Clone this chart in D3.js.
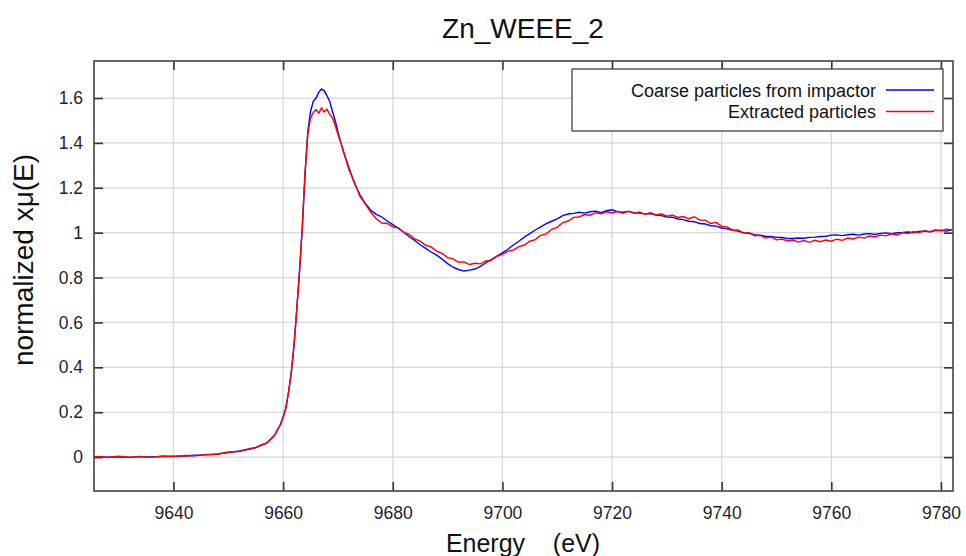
<!DOCTYPE html>
<html>
<head>
<meta charset="utf-8">
<script src="https://cdn.jsdelivr.net/npm/d3@7"></script>
<style>
  body { margin: 0; background: #fff; }
  svg text { font-family: "Liberation Sans", Arial, sans-serif; }
  .grid line { stroke: #d6d6d6; stroke-width: 1.2; }
  .tick text { fill: #1e1e2e; }
</style>
</head>
<body>
<svg id="chart"></svg>
<script>
// energy grid (eV)
const energy = [9625.6, 9628, 9630, 9632, 9634, 9636, 9638, 9640, 9642, 9644, 9646, 9648, 9650, 9652, 9654,
  9655, 9656, 9657, 9658,
  9658.5, 9659, 9659.5, 9660, 9660.5, 9661, 9661.5, 9662, 9662.5, 9663, 9663.5, 9664, 9664.5, 9665, 9665.5,
  9666, 9666.5, 9667, 9667.5, 9668, 9668.5, 9669, 9669.5, 9670,
  9671, 9672, 9673, 9674, 9675, 9676, 9677, 9678, 9679, 9680, 9681, 9682, 9683, 9684, 9685, 9686, 9687, 9688,
  9689, 9690, 9691, 9692, 9693, 9694, 9695, 9696, 9697, 9698, 9699, 9700, 9701, 9702, 9703, 9704, 9705, 9706,
  9707, 9708, 9709, 9710, 9711, 9712, 9713, 9714, 9715, 9716, 9717, 9718, 9719, 9720, 9721, 9722, 9723, 9724,
  9725, 9726, 9727, 9728, 9729, 9730, 9731, 9732, 9733, 9734, 9735, 9736, 9737, 9738, 9739, 9740, 9741, 9742,
  9743, 9744, 9745, 9746, 9747, 9748, 9749, 9750, 9751, 9752, 9753, 9754, 9755, 9756, 9757, 9758, 9759, 9760,
  9761, 9762, 9763, 9764, 9765, 9766, 9767, 9768, 9769, 9770, 9771, 9772, 9773, 9774, 9775, 9776, 9777, 9778,
  9779, 9780, 9781, 9782];

const coarse = [0.002, 0.000, 0.001, -0.001, 0.002, 0.001, 0.003, 0.004, 0.005, 0.008, 0.010, 0.014, 0.020, 0.027, 0.036,
  0.043, 0.052, 0.063, 0.085,
  0.100, 0.122, 0.146, 0.178, 0.22, 0.29, 0.38, 0.50, 0.66, 0.83, 1.02, 1.26, 1.45, 1.54, 1.585,
  1.60, 1.625, 1.64, 1.632, 1.61, 1.585, 1.54, 1.50, 1.45,
  1.36, 1.29, 1.22, 1.17, 1.13, 1.10, 1.082, 1.07, 1.052, 1.036, 1.02, 1.002, 0.982, 0.965, 0.946, 0.93, 0.914, 0.90,
  0.882, 0.862, 0.846, 0.836, 0.829, 0.833, 0.838, 0.85, 0.866, 0.88, 0.896, 0.91, 0.926, 0.945, 0.962, 0.98, 0.996, 1.012,
  1.026, 1.04, 1.051, 1.062, 1.076, 1.083, 1.086, 1.091, 1.087, 1.093, 1.096, 1.089, 1.098, 1.102, 1.094, 1.091, 1.095, 1.089,
  1.088, 1.084, 1.085, 1.079, 1.076, 1.07, 1.069, 1.061, 1.058, 1.051, 1.049, 1.041, 1.039, 1.031, 1.029, 1.021, 1.017, 1.011,
  1.007, 0.999, 0.997, 0.991, 0.989, 0.984, 0.983, 0.979, 0.979, 0.974, 0.974, 0.976, 0.975, 0.979, 0.98, 0.983, 0.984, 0.989,
  0.99, 0.987, 0.991, 0.993, 0.989, 0.994, 0.996, 0.992, 0.997, 0.999, 0.996, 1.0, 1.001, 1.003, 1.0, 1.005, 1.007, 1.004,
  1.009, 1.011, 1.007, 1.013];

const extracted = [0.003, -0.002, 0.004, 0.000, 0.003, -0.001, 0.005, 0.002, 0.007, 0.006, 0.012, 0.013, 0.023, 0.025, 0.039,
  0.041, 0.055, 0.061, 0.088,
  0.098, 0.125, 0.143, 0.18, 0.218, 0.292, 0.378, 0.505, 0.662, 0.835, 1.03, 1.27, 1.44, 1.51, 1.535,
  1.548, 1.532, 1.556, 1.538, 1.55, 1.527, 1.512, 1.478, 1.438,
  1.365, 1.282, 1.226, 1.162, 1.128, 1.091, 1.062, 1.043, 1.041, 1.026, 1.022, 1.001, 0.993, 0.972, 0.962, 0.944, 0.937, 0.918,
  0.908, 0.889, 0.883, 0.868, 0.87, 0.858, 0.864, 0.861, 0.874, 0.878, 0.895, 0.903, 0.917, 0.922, 0.938, 0.945, 0.962, 0.969,
  0.988, 0.995, 1.015, 1.024, 1.045, 1.052, 1.068, 1.07, 1.081, 1.078, 1.089, 1.084, 1.093, 1.088, 1.094, 1.087, 1.096, 1.086,
  1.092, 1.082, 1.089, 1.079, 1.084, 1.074, 1.079, 1.068, 1.072, 1.062, 1.071, 1.056, 1.056, 1.041, 1.046, 1.028, 1.026, 1.011,
  1.012, 0.998, 1.0, 0.986, 0.988, 0.976, 0.981, 0.968, 0.972, 0.963, 0.967, 0.958, 0.965, 0.957, 0.966, 0.96, 0.967, 0.962,
  0.971, 0.966, 0.976, 0.972, 0.98, 0.976, 0.985, 0.981, 0.989, 0.986, 0.995, 0.99, 1.0, 0.996, 1.005, 1.0, 1.009, 1.004,
  1.013, 1.008, 1.016, 1.012];

const xTicks = [9640, 9660, 9680, 9700, 9720, 9740, 9760, 9780];
const yTicks = [0, 0.2, 0.4, 0.6, 0.8, 1, 1.2, 1.4, 1.6];
const seriesNames = ["Coarse particles from impactor", "Extracted particles"];
const seriesColors = ["#0000ff", "#ff0000"];

const W = 966, H = 556;
const margin = {top: 61, right: 13, bottom: 65, left: 94};
const width = W - margin.left - margin.right;
const height = H - margin.top - margin.bottom;

const svg = d3.select("#chart").attr("width", W).attr("height", H);

const x = d3.scaleLinear().domain([9625.5, 9782.2]).range([0, width]);
const y = d3.scaleLinear().domain([-0.151, 1.765]).range([height, 0]);

const g = svg.append("g").attr("transform", "translate(" + margin.left + "," + margin.top + ")");

// grid
g.append("g").attr("class", "grid")
  .selectAll("line").data(xTicks).join("line")
  .attr("x1", d => x(d)).attr("x2", d => x(d)).attr("y1", 0).attr("y2", height);
g.append("g").attr("class", "grid")
  .selectAll("line").data(yTicks).join("line")
  .attr("y1", d => y(d)).attr("y2", d => y(d)).attr("x1", 0).attr("x2", width);

// axes, ticks pointing inward
const axBottom = g.append("g").attr("transform", "translate(0," + height + ")")
  .call(d3.axisBottom(x).tickValues(xTicks).tickSize(-9).tickPadding(16).tickFormat(d3.format("d")));
const axTop = g.append("g")
  .call(d3.axisTop(x).tickValues(xTicks).tickSize(-9).tickFormat(""));
const axLeft = g.append("g")
  .call(d3.axisLeft(y).tickValues(yTicks).tickSize(-9).tickPadding(11).tickFormat(d => d3.format("")(d)));
const axRight = g.append("g").attr("transform", "translate(" + width + ",0)")
  .call(d3.axisRight(y).tickValues(yTicks).tickSize(-9).tickFormat(""));

[axBottom, axTop, axLeft, axRight].forEach(a => {
  a.select(".domain").remove();
  a.selectAll(".tick line").attr("stroke", "#333").attr("stroke-width", 1.6);
  a.selectAll(".tick text").attr("font-size", 17.5);
});

// lines
const line = d3.line()
  .x((d, i) => x(energy[i]))
  .y(d => y(d));

[coarse, extracted].forEach((s, k) => {
  g.append("path")
    .datum(s)
    .attr("fill", "none")
    .attr("stroke", seriesColors[k])
    .attr("stroke-width", 1.4)
    .attr("d", line);
});

// frame
g.append("rect").attr("width", width).attr("height", height)
  .attr("fill", "none").attr("stroke", "#444").attr("stroke-width", 1.6);

// legend
const leg = svg.append("g");
leg.append("rect").attr("x", 572).attr("y", 69).attr("width", 371).attr("height", 62)
  .attr("fill", "#fff").attr("stroke", "#333").attr("stroke-width", 1.2);
seriesNames.forEach((name, k) => {
  const cy = 90 + k * 21.5;
  leg.append("text").attr("x", 876).attr("y", cy + 6.5).attr("text-anchor", "end")
    .attr("font-size", 18).attr("fill", "#111").text(name);
  leg.append("line").attr("x1", 886).attr("x2", 934).attr("y1", cy).attr("y2", cy)
    .attr("stroke", seriesColors[k]).attr("stroke-width", 1.3);
});

// title and axis labels
svg.append("text").attr("x", 523).attr("y", 38).attr("text-anchor", "middle")
  .attr("font-size", 28).attr("fill", "#111").text("Zn_WEEE_2");
svg.append("text").attr("x", 523).attr("y", 552).attr("text-anchor", "middle")
  .attr("font-size", 25).attr("fill", "#111").attr("xml:space", "preserve").text("Energy    (eV)");
svg.append("text").attr("transform", "translate(33,260) rotate(-90)")
  .attr("text-anchor", "middle").attr("font-size", 28).attr("fill", "#111").text("normalized xμ(E)");
</script>
</body>
</html>
